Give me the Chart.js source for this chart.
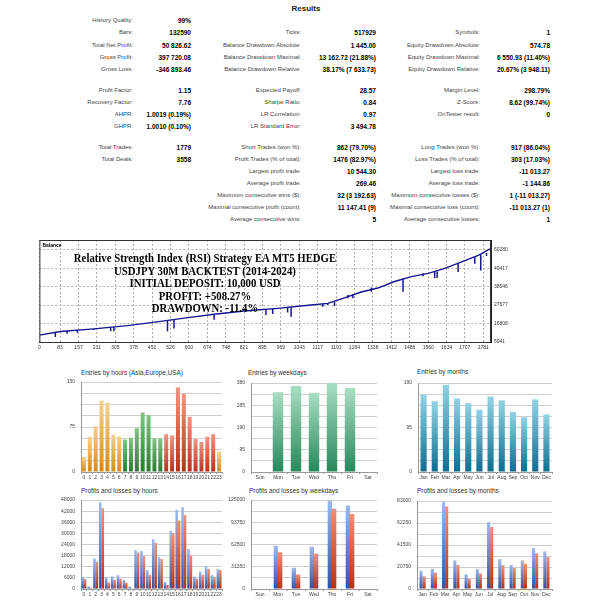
<!DOCTYPE html>
<html>
<head>
<meta charset="utf-8">
<script src="https://cdn.jsdelivr.net/npm/chart.js@4.4.1/dist/chart.umd.min.js"></script>
<style>
  body { margin: 0; background: #fff; width: 613px; height: 600px; position: relative; overflow: hidden; font-family: "Liberation Sans", Arial, sans-serif; }
  canvas { position: absolute; }
  .lbl { position: absolute; font-size: 6px; color: #444; white-space: nowrap; transform: translate(-100%, -50%); }
  .val { position: absolute; font-size: 6.5px; font-weight: bold; color: #000; white-space: nowrap; transform: translate(-100%, -50%); }
  .title { position: absolute; font-size: 6.4px; color: #333; white-space: nowrap; }
  #results { position: absolute; left: 306px; top: 8px; transform: translate(-50%, -50%); font-size: 8px; font-weight: bold; color: #222; }
  #overlay { position: absolute; left: 205px; top: 252px; transform: translateX(-50%) scaleX(0.86); text-align: center; font-family: "Liberation Serif", serif; font-weight: bold; font-size: 12.5px; line-height: 12.6px; color: #000; white-space: nowrap; z-index: 2; }
</style>
</head>
<body>
<div id="results">Results</div>
<div id="overlay">
  Relative Strength Index (RSI) Strategy EA MT5 HEDGE<br>
  USDJPY 30M BACKTEST (2014-2024)<br>
  INITIAL DEPOSIT: 10,000 USD<br>
  PROFIT: +508.27%<br>
  DRAWDOWN: -11.4%
</div>
<script>
// --- Datos del gráfico de balance ---
const balanceTrades = [0, 84, 219, 353, 487, 581, 701, 822, 956, 1090, 1157, 1224, 1291, 1358, 1425, 1493, 1560, 1627, 1694, 1761, 1808];
const balanceValues = [10000, 12110, 13650, 15580, 18080, 20010, 22320, 24250, 25790, 27720, 28680, 31950, 35420, 37740, 41590, 44480, 46410, 49300, 53150, 57010, 60826];
const dipTrades = [64, 111, 152, 219, 286, 299, 514, 540, 701, 909, 936, 996, 1010, 1137, 1157, 1184, 1238, 1258, 1332, 1459, 1539, 1586, 1596, 1680, 1747, 1771, 1794];
const dipLows   = [8832, 10760, 11330, 12950, 12300, 12300, 12300, 13840, 19050, 21840, 22420, 23380, 20880, 26760, 27720, 27140, 31760, 31760, 35610, 35610, 44670, 43710, 43710, 47180, 52000, 48140, 56660];
const dipTops   = [11500, 12400, 12900, 13650, 14600, 14800, 18600, 19000, 22320, 25300, 25600, 26400, 26500, 28400, 28680, 29700, 33700, 34100, 38000, 43300, 46400, 47300, 47500, 52400, 56200, 57300, 58400];
const balanceXTicks = [0, 83, 157, 231, 305, 378, 452, 526, 600, 674, 748, 821, 895, 969, 1043, 1117, 1191, 1264, 1338, 1412, 1486, 1560, 1634, 1707, 1781];
const balanceYTicks = [5941, 16808, 27677, 38546, 49417, 60280];

// --- Entradas ---
const hours = ['0','1','2','3','4','5','6','7','8','9','10','11','12','13','14','15','16','17','18','19','20','21','22','23'];
const hourEntries = [25, 59, 77, 119, 115, 62, 59, 54, 57, 73, 99, 95, 56, 56, 63, 61, 141, 130, 92, 55, 50, 59, 63, 34];
const hourEntryTicks = [0, 75, 150];
const weekdays = ['Sun', 'Mon', 'Tue', 'Wed', 'Thu', 'Fri', 'Sat'];
const weekdayEntries = [0, 341, 367, 338, 380, 359, 0];
const weekdayEntryTicks = [0, 95, 190, 285, 380];
const months = ['Jan', 'Feb', 'Mar', 'Apr', 'May', 'Jun', 'Jul', 'Aug', 'Sep', 'Oct', 'Nov', 'Dec'];
const monthEntries = [165, 151, 186, 157, 147, 133, 161, 153, 128, 117, 155, 123];
const monthEntryTicks = [0, 95, 190];

// --- Ganancias y pérdidas ---
const hourProfits = [6600, 1400, 16500, 46800, 6260, 6780, 7480, 4870, 1390, 21040, 20520, 10090, 26780, 17220, 3830, 31480, 42780, 44170, 21570, 6780, 9390, 12350, 7480, 10780];
const hourLosses  = [5400, 700, 14800, 43500, 3480, 5040, 5560, 3480, 150, 19650, 17740, 7650, 24870, 16170, 2260, 30090, 36870, 39830, 18090, 5570, 7650, 10780, 6610, 10260];
const hourPLTicks = [0, 6000, 12000, 18000, 24000, 30000, 36000, 42000, 48000];
const weekdayProfits = [0, 60690, 29890, 59330, 124100, 117300, 0];
const weekdayLosses  = [0, 51630, 20380, 49820, 112770, 105530, 0];
const weekdayPLTicks = [0, 31250, 62500, 93750, 125000];
const monthProfits = [17150, 18990, 82390, 26950, 13780, 18990, 63090, 28180, 22660, 26950, 38590, 35530];
const monthLosses  = [11940, 15310, 77790, 22660, 9490, 14700, 58500, 22360, 19910, 23890, 33690, 30320];
const monthPLTicks = [0, 20750, 41500, 62250, 83000];

// --- Tabla de resultados ---
const resultRows = [
  [20,  ['History Quality:', '99%'], null, null],
  [32,  ['Bars:', '132590'], ['Ticks:', '517929'], ['Symbols:', '1']],
  [45,  ['Total Net Profit:', '50 826.62'], ['Balance Drawdown Absolute:', '1 445.00'], ['Equity Drawdown Absolute:', '574.78']],
  [57,  ['Gross Profit:', '397 720.08'], ['Balance Drawdown Maximal:', '13 162.72 (21.88%)'], ['Equity Drawdown Maximal:', '6 550.93 (11.40%)']],
  [69,  ['Gross Loss:', '-346 893.46'], ['Balance Drawdown Relative:', '38.17% (7 633.73)'], ['Equity Drawdown Relative:', '20.67% (3 948.11)']],
  [90,  ['Profit Factor:', '1.15'], ['Expected Payoff:', '28.57'], ['Margin Level:', '298.79%']],
  [102, ['Recovery Factor:', '7.76'], ['Sharpe Ratio:', '0.84'], ['Z-Score:', '8.62 (99.74%)']],
  [114, ['AHPR:', '1.0019 (0.19%)'], ['LR Correlation:', '0.97'], ['OnTester result:', '0']],
  [126, ['GHPR:', '1.0010 (0.10%)'], ['LR Standard Error:', '3 494.78'], null],
  [147, ['Total Trades:', '1779'], ['Short Trades (won %):', '862 (79.70%)'], ['Long Trades (won %):', '917 (86.04%)']],
  [159, ['Total Deals:', '3558'], ['Profit Trades (% of total):', '1476 (82.97%)'], ['Loss Trades (% of total):', '303 (17.03%)']],
  [171, null, ['Largest profit trade:', '10 544.30'], ['Largest loss trade:', '-11 013.27']],
  [183, null, ['Average profit trade:', '269.46'], ['Average loss trade:', '-1 144.86']],
  [195, null, ['Maximum consecutive wins ($):', '32 (3 192.63)'], ['Maximum consecutive losses ($):', '1 (-11 013.27)']],
  [207, null, ['Maximal consecutive profit (count):', '11 147.41 (9)'], ['Maximal consecutive loss (count):', '-11 013.27 (1)']],
  [219, null, ['Average consecutive wins:', '5'], ['Average consecutive losses:', '1']]
];
const resultCols = [[133, 191], [301, 376], [480, 550]];

resultRows.forEach(function(row) {
  const y = row[0];
  for (let c = 0; c < 3; c++) {
    const cell = row[c + 1];
    if (!cell) continue;
    const l = document.createElement('div');
    l.className = 'lbl';
    l.style.left = resultCols[c][0] + 'px';
    l.style.top = y + 'px';
    l.textContent = cell[0];
    document.body.appendChild(l);
    const v = document.createElement('div');
    v.className = 'val';
    v.style.left = resultCols[c][1] + 'px';
    v.style.top = y + 'px';
    v.textContent = cell[1];
    document.body.appendChild(v);
  }
});

Chart.defaults.font.family = '"Liberation Sans", Arial, sans-serif';
Chart.defaults.animation = false;

// Crea el canvas para que el área del gráfico caiga en la caja indicada
function makeCanvas(box) {
  const c = document.createElement('canvas');
  const left = box.l - box.yW - (box.pl || 0);
  const top = box.t - box.pt;
  const w = box.r - box.l + box.yW + (box.pl || 0) + box.pr;
  const h = box.b - box.t + box.pt + box.xH;
  c.width = w; c.height = h;
  c.style.left = left + 'px'; c.style.top = top + 'px';
  c.style.width = w + 'px'; c.style.height = h + 'px';
  document.body.appendChild(c);
  return c;
}

function addTitle(text, x, y) {
  const d = document.createElement('div');
  d.className = 'title';
  d.textContent = text;
  d.style.left = x + 'px';
  d.style.top = (y - 5) + 'px';
  document.body.appendChild(d);
}

function plain(v) { return String(Math.round(v)); }

// Degradado vertical por barra
function barGradient(pick) {
  return function(ctx) {
    const chart = ctx.chart;
    const cols = pick(ctx.dataIndex);
    if (!chart.chartArea) return cols[1];
    const ys = chart.scales.y;
    const y0 = ys.getPixelForValue(ctx.raw);
    const y1 = ys.getPixelForValue(0);
    if (!isFinite(y0) || y1 - y0 < 1) return cols[1];
    const g = chart.ctx.createLinearGradient(0, y0, 0, y1);
    g.addColorStop(0, cols[0]);
    g.addColorStop(1, cols[1]);
    return g;
  };
}

function smallOptions(max, divisions, labelTicks, yW, xH) {
  return {
    responsive: false,
    animation: false,
    layout: { padding: { top: 6, right: 4, left: 0, bottom: 0 } },
    plugins: { legend: { display: false }, tooltip: { enabled: false } },
    scales: {
      x: {
        afterFit: function(s) { s.height = xH; },
        grid: { display: true, drawOnChartArea: false, drawTicks: true, tickLength: 2, color: '#999' },
        border: { color: '#999' },
        ticks: { autoSkip: false, maxRotation: 0, padding: 1, font: { size: 5 }, color: '#444' }
      },
      y: {
        min: 0, max: max,
        afterFit: function(s) { s.width = yW; },
        afterBuildTicks: function(s) {
          const t = [];
          for (let i = 0; i <= divisions; i++) t.push({ value: max * i / divisions });
          s.ticks = t;
        },
        grid: { color: '#cfcfcf', drawTicks: false },
        border: { color: '#999' },
        ticks: {
          padding: 6, font: { size: 5 }, color: '#444',
          callback: function(v) { return labelTicks.indexOf(Math.round(v)) >= 0 ? plain(v) : ''; }
        }
      }
    }
  };
}

const ORANGE = ['#f6d38c', '#d38a1e'];
const GREEN = ['#7fc57f', '#2a7a2e'];
const RED = ['#ef9582', '#b2341c'];
const TEAL = ['#a9dec2', '#27885a'];
const CYAN = ['#92d3e4', '#0c6e8e'];
const BLUE = ['#9fb9ea', '#3052a6'];
const LOSS = ['#ec907c', '#b0321b'];
const LINE = '#15158f';

// Caídas de equidad como segmentos verticales
const dipPoints = [];
dipTrades.forEach(function(x, i) {
  dipPoints.push({ x: x, y: dipTops[i] });
  dipPoints.push({ x: x, y: dipLows[i] });
  dipPoints.push({ x: x, y: null });
});

// --- Balance ---
const balBox = { l: 70, t: 238, r: 523, b: 342, yW: 32, xH: 12, pt: 4, pr: 0, pl: 3 };
new Chart(makeCanvas(balBox), {
  type: 'line',
  data: {
    datasets: [
      {
        data: balanceTrades.map(function(x, i) { return { x: x, y: balanceValues[i] }; }),
        borderColor: LINE, borderWidth: 1.4, pointRadius: 0, tension: 0
      },
      {
        data: dipPoints,
        borderColor: LINE, borderWidth: 1.5, pointRadius: 0, tension: 0, spanGaps: false
      }
    ]
  },
  options: {
    responsive: false,
    animation: false,
    layout: { padding: { top: 4, left: 3, right: 0, bottom: 0 } },
    plugins: { legend: { display: false }, tooltip: { enabled: false } },
    scales: {
      x: {
        type: 'linear', min: 0, max: 1812, offset: false,
        afterFit: function(s) { s.height = 12; },
        afterBuildTicks: function(s) { s.ticks = balanceXTicks.map(function(v) { return { value: v }; }); },
        grid: { color: '#b0b0b0', drawTicks: false, offset: false },
        border: { color: '#222', dash: [2, 2] },
        ticks: { padding: 3, font: { size: 5 }, color: '#333', maxRotation: 0, autoSkip: false, callback: plain }
      },
      y: {
        position: 'right', min: 5941, max: 66060,
        afterFit: function(s) { s.width = 32; },
        afterBuildTicks: function(s) { s.ticks = balanceYTicks.map(function(v) { return { value: v }; }); },
        grid: { color: '#b0b0b0', drawTicks: false },
        border: { color: '#222', dash: [2, 2] },
        ticks: { padding: 3, font: { size: 5 }, color: '#333', callback: plain }
      }
    }
  },
  plugins: [{
    id: 'frame',
    afterDraw: function(chart) {
      const a = chart.chartArea, ctx = chart.ctx;
      ctx.save();
      ctx.strokeStyle = '#333';
      ctx.lineWidth = 1;
      ctx.strokeRect(a.left + 0.5, a.top + 0.5, a.right - a.left - 1, a.bottom - a.top);
      ctx.fillStyle = '#000';
      ctx.font = 'bold 5px "Liberation Sans", Arial';
      ctx.textBaseline = 'top';
      ctx.fillText('Balance', a.left + 3, a.top + 3);
      ctx.restore();
    }
  }]
});

// --- Entries by hours ---
addTitle('Entries by hours (Asia,Europe,USA)', 81, 374);
new Chart(makeCanvas({ l: 81, t: 379, r: 222, b: 472, yW: 22, xH: 10, pt: 6, pr: 4 }), {
  type: 'bar',
  data: {
    labels: hours,
    datasets: [{
      data: hourEntries,
      backgroundColor: barGradient(function(i) {
        if (i >= 7 && i <= 13) return GREEN;
        if (i >= 14 && i <= 22) return RED;
        return ORANGE;
      }),
      barPercentage: 0.68, categoryPercentage: 1
    }]
  },
  options: smallOptions(150, 8, hourEntryTicks, 22, 10)
});

// --- Entries by weekdays ---
addTitle('Entries by weekdays', 248, 374);
new Chart(makeCanvas({ l: 251, t: 380, r: 377, b: 472, yW: 22, xH: 10, pt: 6, pr: 4 }), {
  type: 'bar',
  data: {
    labels: weekdays,
    datasets: [{
      data: weekdayEntries,
      backgroundColor: barGradient(function() { return TEAL; }),
      barPercentage: 0.58, categoryPercentage: 1
    }]
  },
  options: smallOptions(380, 8, weekdayEntryTicks, 22, 10)
});

// --- Entries by months ---
addTitle('Entries by months', 417, 373);
new Chart(makeCanvas({ l: 418, t: 380, r: 552, b: 472, yW: 22, xH: 10, pt: 6, pr: 4 }), {
  type: 'bar',
  data: {
    labels: months,
    datasets: [{
      data: monthEntries,
      backgroundColor: barGradient(function() { return CYAN; }),
      barPercentage: 0.55, categoryPercentage: 1
    }]
  },
  options: smallOptions(190, 8, monthEntryTicks, 22, 10)
});

// --- Profits and losses ---
function plChart(box, labels, profits, losses, max, ticks, catPct) {
  new Chart(makeCanvas(box), {
    type: 'bar',
    data: {
      labels: labels,
      datasets: [
        { data: profits, backgroundColor: barGradient(function() { return BLUE; }), barPercentage: 1, categoryPercentage: catPct },
        { data: losses, backgroundColor: barGradient(function() { return LOSS; }), barPercentage: 1, categoryPercentage: catPct }
      ]
    },
    options: smallOptions(max, 8, ticks, box.yW, box.xH)
  });
}

addTitle('Profits and losses by hours', 81, 492);
plChart({ l: 81, t: 497, r: 222, b: 589, yW: 24, xH: 10, pt: 6, pr: 4 }, hours, hourProfits, hourLosses, 48000, hourPLTicks, 0.85);

addTitle('Profits and losses by weekdays', 249, 492);
plChart({ l: 251, t: 497, r: 377, b: 589, yW: 24, xH: 10, pt: 6, pr: 4 }, weekdays, weekdayProfits, weekdayLosses, 125000, weekdayPLTicks, 0.48);

addTitle('Profits and losses by months', 417, 492);
plChart({ l: 417, t: 498, r: 552, b: 589, yW: 24, xH: 10, pt: 6, pr: 4 }, months, monthProfits, monthLosses, 83000, monthPLTicks, 0.55);
</script>
</body>
</html>
